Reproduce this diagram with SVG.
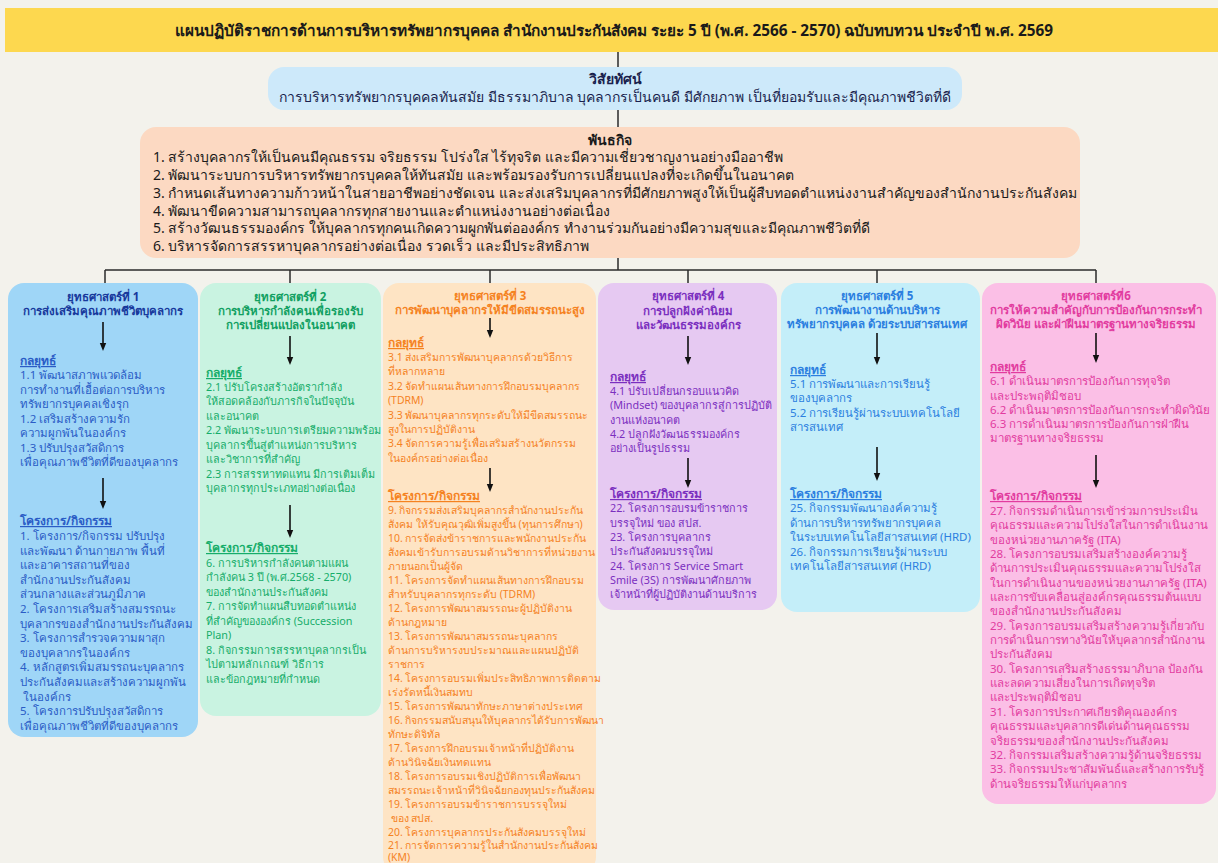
<svg xmlns="http://www.w3.org/2000/svg" width="1218" height="863" viewBox="0 0 1218 863">
<style>
text{font-family:"Noto Sans",sans-serif;}
.t{font-size:15.3px;font-weight:bold;fill:#1a1a1a;text-anchor:middle}
.vh{font-size:14px;font-weight:bold;fill:#1a1f4d;text-anchor:middle}
.vb{font-size:14px;fill:#1a1f4d;text-anchor:middle}
.mh{font-size:14px;font-weight:bold;fill:#1a1a1a;text-anchor:middle}
.mb{font-size:14px;fill:#1a1a1a}
.h{font-size:11.5px;font-weight:bold;text-anchor:middle}
.s{font-size:12px;font-weight:bold;text-decoration:underline}
.b{font-size:11.5px}
.c1 text{fill:#2a5cc6}.c1 .h{fill:#17399c}
.c2 text{fill:#16ad6a}.c2 .h{fill:#11a062}.c2 .b{font-size:10.8px}
.c3 text{fill:#f5821f}.c3 .b{font-size:10.4px}
.c4 text{fill:#7b2fbf}.c4 .b{font-size:10.8px}
.c5 text{fill:#2c7fe0}
.c6 text{fill:#e23c9f}
.ln{stroke:#2b2b2b;stroke-width:1.5;fill:none}
.ar{stroke:#111;stroke-width:1.6;fill:none;marker-end:url(#ah)}
</style>
<defs>
<marker id="ah" viewBox="0 0 10 10" refX="5" refY="5" markerWidth="5" markerHeight="5" orient="auto"><path d="M0,1 L10,5 L0,9 z" fill="#111"/></marker>
</defs>
<rect width="1218" height="863" fill="#f3f2ec"/>
<g id="title">
<rect x="5" y="8" width="1213" height="44" fill="#fdd84f"/>
<text class="t" x="614" y="36">แผนปฏิบัติราชการด้านการบริหารทรัพยากรบุคคล สำนักงานประกันสังคม ระยะ 5 ปี (พ.ศ. 2566 - 2570) ฉบับทบทวน ประจำปี พ.ศ. 2569</text>
</g>
<g id="vision">
<rect x="268" y="67" width="694" height="43" rx="16" fill="#cde9fa"/>
<text class="vh" x="615" y="84">วิสัยทัศน์</text>
<text class="vb" x="615" y="102">การบริหารทรัพยากรบุคคลทันสมัย มีธรรมาภิบาล บุคลากรเป็นคนดี มีศักยภาพ เป็นที่ยอมรับและมีคุณภาพชีวิตที่ดี</text>
</g>
<g id="mission">
<rect x="140" y="127" width="940" height="131" rx="16" fill="#fcd9c2"/>
<text class="mh" x="610" y="145">พันธกิจ</text>
<text class="mb" x="153" y="162">1. สร้างบุคลากรให้เป็นคนมีคุณธรรม จริยธรรม โปร่งใส ไร้ทุจริต และมีความเชี่ยวชาญงานอย่างมืออาชีพ</text>
<text class="mb" x="153" y="180">2. พัฒนาระบบการบริหารทรัพยากรบุคคลให้ทันสมัย และพร้อมรองรับการเปลี่ยนแปลงที่จะเกิดขึ้นในอนาคต</text>
<text class="mb" x="153" y="198">3. กำหนดเส้นทางความก้าวหน้าในสายอาชีพอย่างชัดเจน และส่งเสริมบุคลากรที่มีศักยภาพสูงให้เป็นผู้สืบทอดตำแหน่งงานสำคัญของสำนักงานประกันสังคม</text>
<text class="mb" x="153" y="216">4. พัฒนาขีดความสามารถบุคลากรทุกสายงานและตำแหน่งงานอย่างต่อเนื่อง</text>
<text class="mb" x="153" y="233">5. สร้างวัฒนธรรมองค์กร ให้บุคลากรทุกคนเกิดความผูกพันต่อองค์กร ทำงานร่วมกันอย่างมีความสุขและมีคุณภาพชีวิตที่ดี</text>
<text class="mb" x="153" y="251">6. บริหารจัดการสรรหาบุคลากรอย่างต่อเนื่อง รวดเร็ว และมีประสิทธิภาพ</text>
</g>
<g id="s1" class="c1">
<rect x="8" y="283" width="190" height="454" rx="16" fill="#9fd6f7"/>
<text class="h" x="103" y="301">ยุทธศาสตร์ที่ 1</text>
<text class="h" x="103" y="315">การส่งเสริมคุณภาพชีวิตบุคลากร</text>
<text class="s" x="20" y="365">กลยุทธ์</text>
<text class="b" x="20"><tspan x="20" y="379">1.1 พัฒนาสภาพแวดล้อม</tspan><tspan x="20" y="394">การทำงานที่เอื้อต่อการบริหาร</tspan><tspan x="20" y="408">ทรัพยากรบุคคลเชิงรุก</tspan><tspan x="20" y="423">1.2 เสริมสร้างความรัก</tspan><tspan x="20" y="437">ความผูกพันในองค์กร</tspan><tspan x="20" y="452">1.3 ปรับปรุงสวัสดิการ</tspan><tspan x="20" y="466">เพื่อคุณภาพชีวิตที่ดีของบุคลากร</tspan></text>
<text class="s" x="20" y="525">โครงการ/กิจกรรม</text>
<text class="b"><tspan x="20" y="540">1. โครงการ/กิจกรรม ปรับปรุง</tspan><tspan x="20" y="555">และพัฒนา ด้านกายภาพ พื้นที่</tspan><tspan x="20" y="569">และอาคารสถานที่ของ</tspan><tspan x="20" y="584">สำนักงานประกันสังคม</tspan><tspan x="20" y="598">ส่วนกลางและส่วนภูมิภาค</tspan><tspan x="20" y="613">2. โครงการเสริมสร้างสมรรถนะ</tspan><tspan x="20" y="628">บุคลากรของสำนักงานประกันสังคม</tspan><tspan x="20" y="642">3. โครงการสำรวจความผาสุก</tspan><tspan x="20" y="657">ของบุคลากรในองค์กร</tspan><tspan x="20" y="671">4. หลักสูตรเพิ่มสมรรถนะบุคลากร</tspan><tspan x="20" y="686">ประกันสังคมและสร้างความผูกพัน</tspan><tspan x="20" y="701"> ในองค์กร</tspan><tspan x="20" y="715">5. โครงการปรับปรุงสวัสดิการ</tspan><tspan x="20" y="730">เพื่อคุณภาพชีวิตที่ดีของบุคลากร</tspan></text>
</g>
<g id="s2" class="c2">
<rect x="200" y="283" width="181" height="433" rx="16" fill="#c9f3e1"/>
<text class="h" x="290" y="301">ยุทธศาสตร์ที่ 2</text>
<text class="h" x="290" y="315">การบริหารกำลังคนเพื่อรองรับ</text>
<text class="h" x="290" y="329">การเปลี่ยนแปลงในอนาคต</text>
<text class="s" x="206" y="377">กลยุทธ์</text>
<text class="b"><tspan x="206" y="391">2.1 ปรับโครงสร้างอัตรากำลัง</tspan><tspan x="206" y="405">ให้สอดคล้องกับภารกิจในปัจจุบัน</tspan><tspan x="206" y="420">และอนาคต</tspan><tspan x="206" y="434">2.2 พัฒนาระบบการเตรียมความพร้อม</tspan><tspan x="206" y="449">บุคลากรขึ้นสู่ตำแหน่งการบริหาร</tspan><tspan x="206" y="463">และวิชาการที่สำคัญ</tspan><tspan x="206" y="478">2.3 การสรรหาทดแทน มีการเติมเต็ม</tspan><tspan x="206" y="492">บุคลากรทุกประเภทอย่างต่อเนื่อง</tspan></text>
<text class="s" x="206" y="552">โครงการ/กิจกรรม</text>
<text class="b"><tspan x="206" y="567">6. การบริหารกำลังคนตามแผน</tspan><tspan x="206" y="581">กำลังคน 3 ปี (พ.ศ.2568 - 2570)</tspan><tspan x="206" y="596">ของสำนักงานประกันสังคม</tspan><tspan x="206" y="610">7. การจัดทำแผนสืบทอดตำแหน่ง</tspan><tspan x="206" y="625">ที่สำคัญขององค์กร (Succession</tspan><tspan x="206" y="639">Plan)</tspan><tspan x="206" y="654">8. กิจกรรมการสรรหาบุคลากรเป็น</tspan><tspan x="206" y="668">ไปตามหลักเกณฑ์ วิธีการ</tspan><tspan x="206" y="683">และข้อกฎหมายที่กำหนด</tspan></text>
</g>
<g id="s3" class="c3">
<rect x="383" y="283" width="213" height="590" rx="16" fill="#fee4c4"/>
<text class="h" x="490" y="300">ยุทธศาสตร์ที่ 3</text>
<text class="h" x="490" y="314">การพัฒนาบุคลากรให้มีขีดสมรรถนะสูง</text>
<text class="s" x="388" y="347">กลยุทธ์</text>
<text class="b"><tspan x="388" y="361">3.1 ส่งเสริมการพัฒนาบุคลากรด้วยวิธีการ</tspan><tspan x="388" y="375">ที่หลากหลาย</tspan><tspan x="388" y="390">3.2 จัดทำแผนเส้นทางการฝึกอบรมบุคลากร</tspan><tspan x="388" y="404">(TDRM)</tspan><tspan x="388" y="419">3.3 พัฒนาบุคลากรทุกระดับให้มีขีดสมรรถนะ</tspan><tspan x="388" y="433">สูงในการปฏิบัติงาน</tspan><tspan x="388" y="447">3.4 จัดการความรู้เพื่อเสริมสร้างนวัตกรรม</tspan><tspan x="388" y="462">ในองค์กรอย่างต่อเนื่อง</tspan></text>
<text class="s" x="388" y="500">โครงการ/กิจกรรม</text>
<text class="b"><tspan x="388" y="514">9. กิจกรรมส่งเสริมบุคลากรสำนักงานประกัน</tspan><tspan x="388" y="528">สังคม ให้รับคุณวุฒิเพิ่มสูงขึ้น (ทุนการศึกษา)</tspan><tspan x="388" y="542">10. การจัดส่งข้าราชการและพนักงานประกัน</tspan><tspan x="388" y="556">สังคมเข้ารับการอบรมด้านวิชาการที่หน่วยงาน</tspan><tspan x="388" y="570">ภายนอกเป็นผู้จัด</tspan><tspan x="388" y="584">11. โครงการจัดทำแผนเส้นทางการฝึกอบรม</tspan><tspan x="388" y="598">สำหรับบุคลากรทุกระดับ (TDRM)</tspan><tspan x="388" y="612">12. โครงการพัฒนาสมรรถนะผู้ปฏิบัติงาน</tspan><tspan x="388" y="626">ด้านกฎหมาย</tspan><tspan x="388" y="640">13. โครงการพัฒนาสมรรถนะบุคลากร</tspan><tspan x="388" y="654">ด้านการบริหารงบประมาณและแผนปฏิบัติ</tspan><tspan x="388" y="668">ราชการ</tspan><tspan x="388" y="682">14. โครงการอบรมเพิ่มประสิทธิภาพการติดตาม</tspan><tspan x="388" y="696">เร่งรัดหนี้เงินสมทบ</tspan><tspan x="388" y="710">15. โครงการพัฒนาทักษะภาษาต่างประเทศ</tspan><tspan x="388" y="724">16. กิจกรรมสนับสนุนให้บุคลากรได้รับการพัฒนา</tspan><tspan x="388" y="738">ทักษะดิจิทัล</tspan><tspan x="388" y="752">17. โครงการฝึกอบรมเจ้าหน้าที่ปฏิบัติงาน</tspan><tspan x="388" y="766">ด้านวินิจฉัยเงินทดแทน</tspan><tspan x="388" y="780">18. โครงการอบรมเชิงปฏิบัติการเพื่อพัฒนา</tspan><tspan x="388" y="794">สมรรถนะเจ้าหน้าที่วินิจฉัยกองทุนประกันสังคม</tspan><tspan x="388" y="808">19. โครงการอบรมข้าราชการบรรจุใหม่</tspan><tspan x="388" y="822"> ของ สปส.</tspan><tspan x="388" y="836">20. โครงการบุคลากรประกันสังคมบรรจุใหม่</tspan><tspan x="388" y="849">21. การจัดการความรู้ในสำนักงานประกันสังคม</tspan><tspan x="388" y="861">(KM)</tspan></text>
</g>
<g id="s4" class="c4">
<rect x="598" y="283" width="179" height="327" rx="16" fill="#e6c9f2"/>
<text class="h" x="688" y="300">ยุทธศาสตร์ที่ 4</text>
<text class="h" x="688" y="315">การปลูกฝังค่านิยม</text>
<text class="h" x="688" y="329">และวัฒนธรรมองค์กร</text>
<text class="s" x="610" y="381">กลยุทธ์</text>
<text class="b"><tspan x="610" y="395">4.1 ปรับเปลี่ยนกรอบแนวคิด</tspan><tspan x="610" y="409">(Mindset) ของบุคลากรสู่การปฏิบัติ</tspan><tspan x="610" y="424">งานแห่งอนาคต</tspan><tspan x="610" y="438">4.2 ปลูกฝังวัฒนธรรมองค์กร</tspan><tspan x="610" y="452">อย่างเป็นรูปธรรม</tspan></text>
<text class="s" x="610" y="498">โครงการ/กิจกรรม</text>
<text class="b"><tspan x="610" y="512">22. โครงการอบรมข้าราชการ</tspan><tspan x="610" y="527">บรรจุใหม่ ของ สปส.</tspan><tspan x="610" y="541">23. โครงการบุคลากร</tspan><tspan x="610" y="555">ประกันสังคมบรรจุใหม่</tspan><tspan x="610" y="570">24. โครงการ Service Smart</tspan><tspan x="610" y="584">Smile (3S) การพัฒนาศักยภาพ</tspan><tspan x="610" y="598">เจ้าหน้าที่ผู้ปฏิบัติงานด้านบริการ</tspan></text>
</g>
<g id="s5" class="c5">
<rect x="781" y="283" width="199" height="329" rx="16" fill="#c4eef9"/>
<text class="h" x="877" y="300">ยุทธศาสตร์ที่ 5</text>
<text class="h" x="877" y="314">การพัฒนางานด้านบริหาร</text>
<text class="h" x="877" y="328">ทรัพยากรบุคคล ด้วยระบบสารสนเทศ</text>
<text class="s" x="790" y="374">กลยุทธ์</text>
<text class="b"><tspan x="790" y="388">5.1 การพัฒนาและการเรียนรู้</tspan><tspan x="790" y="402">ของบุคลากร</tspan><tspan x="790" y="417">5.2 การเรียนรู้ผ่านระบบเทคโนโลยี</tspan><tspan x="790" y="431">สารสนเทศ</tspan></text>
<text class="s" x="790" y="498">โครงการ/กิจกรรม</text>
<text class="b"><tspan x="790" y="512">25. กิจกรรมพัฒนาองค์ความรู้</tspan><tspan x="790" y="527">ด้านการบริหารทรัพยากรบุคคล</tspan><tspan x="790" y="541">ในระบบเทคโนโลยีสารสนเทศ (HRD)</tspan><tspan x="790" y="556">26. กิจกรรมการเรียนรู้ผ่านระบบ</tspan><tspan x="790" y="570">เทคโนโลยีสารสนเทศ (HRD)</tspan></text>
</g>
<g id="s6" class="c6">
<rect x="982" y="283" width="234" height="521" rx="16" fill="#fbbfe6"/>
<text class="h" x="1096" y="300">ยุทธศาสตร์ที่6</text>
<text class="h" x="1096" y="314">การให้ความสำคัญกับการป้องกันการกระทำ</text>
<text class="h" x="1096" y="328">ผิดวินัย และฝ่าฝืนมาตรฐานทางจริยธรรม</text>
<text class="s" x="990" y="371">กลยุทธ์</text>
<text class="b"><tspan x="990" y="385">6.1 ดำเนินมาตรการป้องกันการทุจริต</tspan><tspan x="990" y="400">และประพฤติมิชอบ</tspan><tspan x="990" y="414">6.2 ดำเนินมาตรการป้องกันการกระทำผิดวินัย</tspan><tspan x="990" y="428">6.3 การดำเนินมาตรการป้องกันการฝ่าฝืน</tspan><tspan x="990" y="442">มาตรฐานทางจริยธรรม</tspan></text>
<text class="s" x="990" y="500">โครงการ/กิจกรรม</text>
<text class="b"><tspan x="990" y="515">27. กิจกรรมดำเนินการเข้าร่วมการประเมิน</tspan><tspan x="990" y="529">คุณธรรมและความโปร่งใสในการดำเนินงาน</tspan><tspan x="990" y="544">ของหน่วยงานภาครัฐ (ITA)</tspan><tspan x="990" y="558">28. โครงการอบรมเสริมสร้างองค์ความรู้</tspan><tspan x="990" y="572">ด้านการประเมินคุณธรรมและความโปร่งใส</tspan><tspan x="990" y="587">ในการดำเนินงานของหน่วยงานภาครัฐ (ITA)</tspan><tspan x="990" y="601">และการขับเคลื่อนสู่องค์กรคุณธรรมต้นแบบ</tspan><tspan x="990" y="615">ของสำนักงานประกันสังคม</tspan><tspan x="990" y="630">29. โครงการอบรมเสริมสร้างความรู้เกี่ยวกับ</tspan><tspan x="990" y="644">การดำเนินการทางวินัยให้บุคลากรสำนักงาน</tspan><tspan x="990" y="658">ประกันสังคม</tspan><tspan x="990" y="673">30. โครงการเสริมสร้างธรรมาภิบาล ป้องกัน</tspan><tspan x="990" y="687">และลดความเสี่ยงในการเกิดทุจริต</tspan><tspan x="990" y="701">และประพฤติมิชอบ</tspan><tspan x="990" y="716">31. โครงการประกาศเกียรติคุณองค์กร</tspan><tspan x="990" y="730">คุณธรรมและบุคลากรดีเด่นด้านคุณธรรม</tspan><tspan x="990" y="745">จริยธรรมของสำนักงานประกันสังคม</tspan><tspan x="990" y="759">32. กิจกรรมเสริมสร้างความรู้ด้านจริยธรรม</tspan><tspan x="990" y="773">33. กิจกรรมประชาสัมพันธ์และสร้างการรับรู้</tspan><tspan x="990" y="788">ด้านจริยธรรมให้แก่บุคลากร</tspan></text>
</g>
<g id="connectors">
<path class="ln" d="M618,52 V67 M618,110 V127 M618,258 V270 M105,270 H1096 M105,270 V283 M290,270 V283 M490,270 V283 M688,270 V283 M877,270 V283 M1096,270 V283"/>
<path class="ar" d="M103,322 V347"/>
<path class="ar" d="M103,478 V505"/>
<path class="ar" d="M290,336 V361"/>
<path class="ar" d="M290,505 V534"/>
<path class="ar" d="M490,318 V334"/>
<path class="ar" d="M490,468 V488"/>
<path class="ar" d="M688,336 V361"/>
<path class="ar" d="M688,458 V484"/>
<path class="ar" d="M877,333 V361"/>
<path class="ar" d="M877,447 V477"/>
<path class="ar" d="M1096,333 V359"/>
<path class="ar" d="M1096,455 V484"/>
</g>
</svg>
